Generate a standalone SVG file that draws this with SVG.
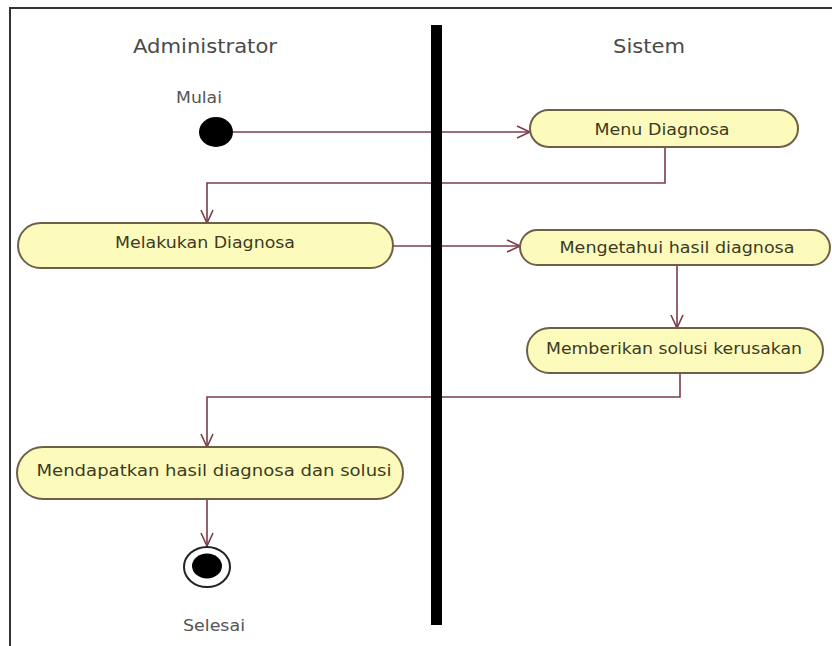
<svg xmlns="http://www.w3.org/2000/svg" width="832" height="646" viewBox="0 0 832 646">
  <defs>
    <style>
      .lane { font-family: "DejaVu Sans", "Liberation Sans", sans-serif; font-size: 19px; fill: #4a4a4a; text-anchor: middle; }
      .lbl { font-family: "DejaVu Sans", "Liberation Sans", sans-serif; font-size: 15px; fill: #555555; text-anchor: middle; }
      .act rect { fill: #fdfbbb; stroke: #6e6048; stroke-width: 2; }
      .act text { font-family: "DejaVu Sans", "Liberation Sans", sans-serif; font-size: 16px; fill: #3b3a25; text-anchor: middle; }
      .flow path { fill: none; stroke: #7a3c48; stroke-width: 1.6; marker-end: url(#arrow); }
    </style>
    <marker id="arrow" markerUnits="userSpaceOnUse" markerWidth="16" markerHeight="14" refX="14" refY="7" orient="auto">
      <path d="M1,1 L14,7 L1,13" fill="none" stroke="#7a3c48" stroke-width="1.6"/>
    </marker>
  </defs>

  <rect width="832" height="646" fill="#ffffff"/>

  <!-- outer frame -->
  <rect x="10" y="8" width="840" height="660" fill="none" stroke="#333333" stroke-width="2"/>

  <!-- lane headings -->
  <text class="lane" x="205" y="53" textLength="144" lengthAdjust="spacingAndGlyphs">Administrator</text>
  <text class="lane" x="649" y="53" textLength="72" lengthAdjust="spacingAndGlyphs">Sistem</text>

  <!-- connectors -->
  <g id="connectors" class="flow">
    <path d="M233,132 L530,132"/>
    <path d="M665,147 L665,183 L207,183 L207,223"/>
    <path d="M393,246 L520,246"/>
    <path d="M677,265 L677,328"/>
    <path d="M680,373 L680,397 L207,397 L207,447"/>
    <path d="M207,499 L207,546"/>
  </g>

  <!-- swimlane divider, drawn over the crossing flows -->
  <rect x="431" y="25" width="11" height="600" fill="#000000"/>

  <!-- start node -->
  <g id="start">
    <ellipse cx="216" cy="132" rx="17" ry="15" fill="#000000"/>
    <text class="lbl" x="199" y="103" textLength="46" lengthAdjust="spacingAndGlyphs">Mulai</text>
  </g>

  <g id="menu-diagnosa" class="act">
    <rect x="530" y="110" width="268" height="37" rx="18.5" ry="18.5"/>
    <text x="662" y="135" textLength="135" lengthAdjust="spacingAndGlyphs">Menu Diagnosa</text>
  </g>

  <g id="melakukan-diagnosa" class="act">
    <rect x="18" y="223" width="375" height="45" rx="22.5" ry="22.5"/>
    <text x="205" y="248" textLength="180" lengthAdjust="spacingAndGlyphs">Melakukan Diagnosa</text>
  </g>

  <g id="mengetahui-hasil" class="act">
    <rect x="520" y="230" width="310" height="35" rx="17.5" ry="17.5"/>
    <text x="677" y="253" textLength="235" lengthAdjust="spacingAndGlyphs">Mengetahui hasil diagnosa</text>
  </g>

  <g id="memberikan-solusi" class="act">
    <rect x="527" y="328" width="296" height="45" rx="22.5" ry="22.5"/>
    <text x="674" y="354" textLength="256" lengthAdjust="spacingAndGlyphs">Memberikan solusi kerusakan</text>
  </g>

  <g id="mendapatkan-hasil" class="act">
    <rect x="17" y="447" width="386" height="52" rx="26" ry="26"/>
    <text x="214" y="476" textLength="355" lengthAdjust="spacingAndGlyphs">Mendapatkan hasil diagnosa dan solusi</text>
  </g>

  <!-- end node -->
  <g id="end">
    <ellipse cx="207" cy="567" rx="23" ry="20" fill="#ffffff" stroke="#222222" stroke-width="2"/>
    <ellipse cx="207" cy="566" rx="15" ry="12.5" fill="#000000"/>
    <text class="lbl" x="214" y="631" textLength="62" lengthAdjust="spacingAndGlyphs">Selesai</text>
  </g>
</svg>
